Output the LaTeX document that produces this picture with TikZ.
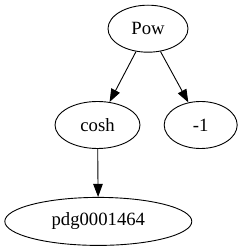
\documentclass[tikz,border=0pt]{standalone}
\usepackage{fontspec}
\setmainfont{Liberation Serif}
\usetikzlibrary{arrows.meta,positioning,shapes.geometric}

\begin{document}
\begin{tikzpicture}[x=1pt,y=1pt,node distance=48pt,
  vertex/.style={draw,ellipse,line width=0.9pt,inner sep=0pt,minimum height=47pt,font=\fontsize{18.7}{22}\selectfont},
  >={Triangle[length=13pt,width=9.5pt]},edge/.style={->,line width=0.9pt}]
\useasboundingbox (0,0) rectangle (242,251);
\node[vertex,minimum width=80pt] (pow) at (148,222.3) {Pow};
\node[vertex,minimum width=85pt] (cosh) at (97.5,126) {cosh};
\node[vertex,minimum width=73pt] (minus) at (200.7,126) {-1};
\node[vertex,minimum width=187pt,minimum height=48pt,below=of cosh,xshift=0.8pt] (pdg) {pdg0001464};
\draw[edge] (pow)--(cosh); \draw[edge] (pow)--(minus); \draw[edge] (cosh)--(pdg);
\end{tikzpicture}
\end{document}
